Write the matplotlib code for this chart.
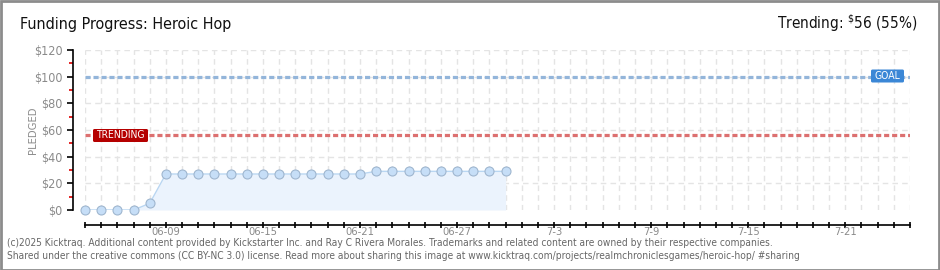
import matplotlib
matplotlib.use("Agg")
import matplotlib.pyplot as plt
from matplotlib.patches import Rectangle, FancyBboxPatch
import numpy as np

plt.rcParams['font.family'] = ['DejaVu Sans']
plt.rcParams['font.stretch'] = 'condensed'

# Daily pledged totals, starting 06-04
pledged = [0, 0, 0, 0, 5,
           27, 27, 27, 27, 27, 27, 27, 27, 27, 27, 27, 27, 27,
           29, 29, 29, 29, 29, 29, 29, 29, 29]
n_days = 52  # campaign days shown on the axis (06-04 .. 07-25)
tick_labels = {5: "06-09", 11: "06-15", 17: "06-21", 23: "06-27",
               29: "7-3", 35: "7-9", 41: "7-15", 47: "7-21"}
goal = 100
trending = 56
trending_pct = 55
title = "Funding Progress: Heroic Hop"
footer = ["(c)2025 Kicktraq. Additional content provided by Kickstarter Inc. and Ray C Rivera Morales. "
          "Trademarks and related content are owned by their respective companies.",
          "Shared under the creative commons (CC BY-NC 3.0) license. Read more about sharing this image at "
          "www.kicktraq.com/projects/realmchroniclesgames/heroic-hop/ #sharing"]

W, H = 940, 270
fig = plt.figure(figsize=(W / 100, H / 100), dpi=100)
ax = fig.add_axes([85 / W, (H - 210) / H, (910 - 85) / W, 160 / H])

days = np.arange(len(pledged))
ax.set_xlim(0, n_days - 1)
ax.set_ylim(0, 120)

# grid
for d in range(n_days):
    ax.axvline(d, color="#e4e4e4", lw=1, ls=(0, (4, 3)), zorder=0)
for v in range(20, 121, 20):
    ax.axhline(v, color="#e4e4e4", lw=1, ls=(0, (4, 3)), zorder=0)

# pledged series
ax.fill_between(days, pledged, 0, color="#ebf3fd", zorder=1, lw=0)
ax.plot(days, pledged, color="#b9d6f2", lw=1, zorder=2)
ax.scatter(days, pledged, s=42, color="#c6def7", edgecolor="#9fb6cf", lw=0.8,
           zorder=3, clip_on=False)

# goal / trending lines
ax.axhline(goal, color="#93b5da", lw=2.3, ls=(0, (1.6, 0.9)), zorder=2)
ax.axhline(trending, color="#dc7070", lw=2.3, ls=(0, (1.6, 0.9)), zorder=2)

def tag(x, y, text, color, w):
    box = FancyBboxPatch((x, y - 6.5), w, 13, boxstyle="round,pad=0,rounding_size=1.5",
                         transform=None, facecolor=color, edgecolor="none", zorder=5)
    fig.patches.append(box)
    fig.text((x + w / 2) / W, y / H, text, color="white", fontsize=7.5,
             ha="center", va="center", zorder=6)

tag(871, H - 76, "GOAL", "#3b87d6", 33)
tag(93, H - 135.5, "TRENDING", "#b50000", 55)

# axes styling
for s in ["top", "right"]:
    ax.spines[s].set_visible(False)
ax.spines["left"].set_position(("outward", 9))
ax.spines["bottom"].set_position(("outward", 11))
for s in ["left", "bottom"]:
    ax.spines[s].set_color("black")
    ax.spines[s].set_linewidth(1.2)

ax.set_yticks(range(0, 121, 20))
ax.set_yticklabels([f"${v}" for v in range(0, 121, 20)])
ax.set_yticks(range(10, 120, 20), minor=True)
ax.tick_params(axis="y", which="major", length=4, width=1.2, color="black",
               labelcolor="#8a8a8a", labelsize=9, pad=3)
ax.tick_params(axis="y", which="minor", length=3, width=1.2, color="#e00000")

ax.set_xticks(range(n_days))
ax.set_xticklabels([tick_labels.get(d, "") for d in range(n_days)])
ax.tick_params(axis="x", which="major", direction="inout", length=5, width=1.2,
               color="black", labelcolor="#8a8a8a", labelsize=8, pad=-1.5)

ax.set_ylabel("PLEDGED", color="#8a8a8a", fontsize=8, labelpad=-3)

# header
fig.text(20 / W, (H - 24) / H, title, fontsize=11.5, color="#111111", va="center", ha="left")
fig.text(918 / W, (H - 23) / H, f"Trending: $^{{\\$}}${trending} ({trending_pct}%)",
         fontsize=11, color="#111111", va="center", ha="right")

# footer
fig.text(7 / W, (H - 243) / H, footer[0], fontsize=7.3, color="#666666", va="center")
fig.text(7 / W, (H - 256) / H, footer[1], fontsize=7.3, color="#666666", va="center")

# frame
fig.patches.append(Rectangle((0.5, 0.5), W - 1.5, H - 1.5, transform=None,
                             fill=False, edgecolor="#8c8c8c", lw=2))

fig.savefig("out.png", dpi=100)
